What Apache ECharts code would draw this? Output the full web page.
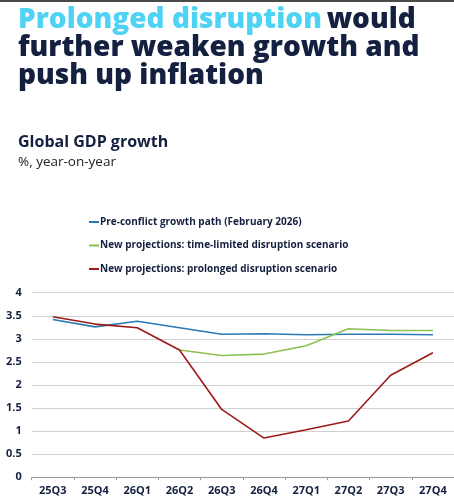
<!DOCTYPE html>
<html><head><meta charset="utf-8">
<script src="https://cdn.jsdelivr.net/npm/echarts@6/dist/echarts.min.js"></script>
<style>
html,body{margin:0;padding:0;background:#fff;}
#top{position:absolute;left:0;top:0;width:454px;height:2px;background:#4a4a4a;}
#chart{width:454px;height:500px;}
</style></head>
<body>
<div id="top"></div>
<div id="chart"></div>
<script>
const categories = ['25Q3','25Q4','26Q1','26Q2','26Q3','26Q4','27Q1','27Q2','27Q3','27Q4'];
const preConflict = [3.42, 3.26, 3.38, 3.24, 3.10, 3.11, 3.09, 3.10, 3.10, 3.09];
const timeLimited = [null, null, null, 2.76, 2.64, 2.67, 2.85, 3.22, 3.18, 3.18];
const prolonged = [3.48, 3.32, 3.24, 2.76, 1.47, 0.85, 1.03, 1.22, 2.21, 2.70];
const seriesNames = [
  'Pre-conflict growth path (February 2026)',
  'New projections: time-limited disruption scenario',
  'New projections: prolonged disruption scenario'
];
const navy = '#14203f';
const font = 'Open Sans';
const chart = echarts.init(document.getElementById('chart'));
chart.setOption({
  animation: false,
  textStyle: { fontFamily: font },
  title: [
    {
      text: '{c|Prolonged disruption} {d|would}\n{d|further weaken growth and}\n{d|push up inflation}',
      left: 13, top: 1,
      textStyle: {
        rich: {
          c: { color: '#4fd3f4', fontSize: 28, fontWeight: 800, fontFamily: font, lineHeight: 28 },
          d: { color: navy, fontSize: 28, fontWeight: 800, fontFamily: font, lineHeight: 28 }
        }
      }
    },
    {
      text: 'Global GDP growth',
      subtext: '%, year-on-year',
      left: 13, top: 129, itemGap: 5,
      textStyle: { color: navy, fontSize: 16, fontWeight: 700, fontFamily: font },
      subtextStyle: { color: '#222', fontSize: 13.5, fontWeight: 400, fontFamily: font }
    }
  ],
  legend: {
    orient: 'vertical',
    left: 84, top: 212,
    itemWidth: 10, itemHeight: 2, itemGap: 13.5,
    icon: 'rect',
    textStyle: { color: navy, fontSize: 10, fontWeight: 700, fontFamily: font, padding: [0,0,0,-4] },
    data: seriesNames
  },
  grid: { left: 31.7, right: 0, top: 292.7, bottom: 22.7, containLabel: false },
  xAxis: {
    type: 'category', data: categories, boundaryGap: true,
    axisLine: { lineStyle: { color: '#9a9a9a', width: 1 } },
    axisTick: { show: true, length: 3, lineStyle: { color: '#9a9a9a' } },
    axisLabel: { color: navy, fontSize: 11, fontWeight: 700, margin: 8, fontFamily: font }
  },
  yAxis: {
    type: 'value', min: 0, max: 4, interval: 0.5,
    axisLine: { show: false }, axisTick: { show: false },
    splitLine: { lineStyle: { color: '#d0d0d0', width: 1 } },
    axisLabel: { color: navy, fontSize: 11, fontWeight: 700, margin: 10, fontFamily: font }
  },
  series: [
    { name: seriesNames[0], type: 'line', data: preConflict, showSymbol: false, symbol: 'none',
      lineStyle: { color: '#2b7ab5', width: 1.6 }, itemStyle: { color: '#2b7ab5' } },
    { name: seriesNames[1], type: 'line', data: timeLimited, showSymbol: false, symbol: 'none',
      lineStyle: { color: '#8cc152', width: 1.6 }, itemStyle: { color: '#8cc152' } },
    { name: seriesNames[2], type: 'line', data: prolonged, showSymbol: false, symbol: 'none',
      lineStyle: { color: '#9c1a1a', width: 1.6 }, itemStyle: { color: '#9c1a1a' } }
  ]
});
</script>
</body></html>
